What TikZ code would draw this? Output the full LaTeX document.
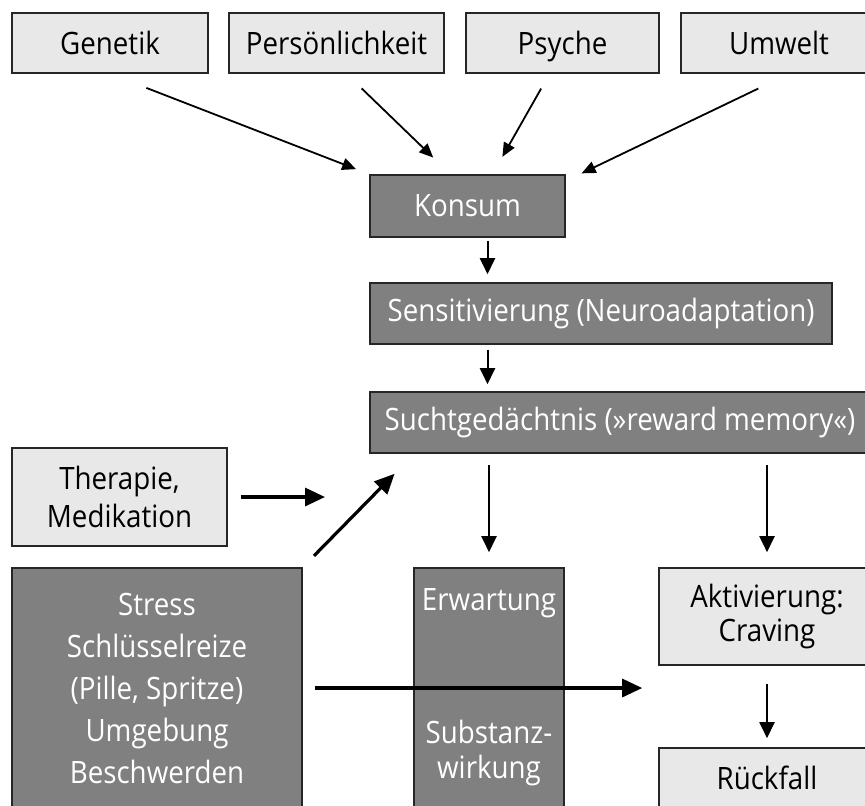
\documentclass[tikz,border=0pt]{standalone}
\usepackage{fontspec}
\setmainfont{Open Sans}[FakeStretch=0.9]
\usetikzlibrary{arrows.meta,calc}
\definecolor{boxdark}{RGB}{128,128,128}
\definecolor{boxlight}{RGB}{232,232,232}
\tikzset{%
  box/.style      = {shape=rectangle, draw=black!85, line width=0.8pt,%
                     align=center, inner sep=0pt,%
                     font=\fontsize{15.4}{19}\selectfont},%
  darkbox/.style  = {box, fill=boxdark, text=white},%
  lightbox/.style = {box, fill=boxlight, text=black},%
  arr/.style      = {-{Triangle[length=7pt,width=6pt]}, line width=0.9pt},%
  thickarr/.style = {-{Triangle[length=10pt,width=9pt]}, line width=1.6pt}%
}
\begin{document}
\begin{tikzpicture}[x=0.5pt, y=-0.5pt]%
	\useasboundingbox (0,0) rectangle (865,805);
	\clip (0,0) rectangle (865,805);
	% Einflussfaktoren
	\node[lightbox, minimum width=98pt, minimum height=30pt] (gen) at (110,43) {Genetik};
	\node[lightbox, minimum width=107.5pt, minimum height=30pt] (pers) at (336.5,43) {Persönlichkeit};
	\node[lightbox, minimum width=96.5pt, minimum height=30pt, text depth=0pt] (psy) at (562.5,43) {Psyche};
	\node[lightbox, minimum width=98pt, minimum height=30pt] (umw) at (779,43) {Umwelt};
	% Hauptkette
	\node[darkbox, minimum width=97.5pt, minimum height=31pt] (kon) at (467.5,206) {Konsum};
	\node[darkbox, minimum width=231pt, minimum height=30.5pt] (sens) at (601,313.5) {Sensitivierung (Neuroadaptation)};
	\node[darkbox, minimum width=250pt, minimum height=30.5pt] (sucht) at (620,422.5) {Suchtgedächtnis (»reward memory«)};
	\node[lightbox, minimum width=107.5pt, minimum height=49pt] (ther) at (119.5,497) {Therapie,\\Medikation};
	% untere Reihe
	\node[darkbox, minimum width=145pt, minimum height=120pt,%
	      font=\fontsize{15.4}{21}\selectfont] (stress) at (157,688)%
	      {Stress\\Schlüsselreize\\(Pille, Spritze)\\Umgebung\\Beschwerden};
	\node[darkbox, minimum width=75pt, minimum height=120pt] (erw) at (489,688) {};
	\node[box, draw=none, text=white] (erwtop) at ($(erw.north)+(0,36)$) {Erwartung};
	\node[box, draw=none, text=white, font=\fontsize{15.4}{17.5}\selectfont] (erwbot) at ($(erw.south)+(0,-56)$) {Substanz-\\wirkung};
	\node[lightbox, minimum width=108pt, minimum height=48.5pt,%
	      font=\fontsize{15.4}{17}\selectfont] (akt) at (767,616.5) {Aktivierung:\\Craving};
	\node[lightbox, minimum width=108pt, minimum height=30pt] (rueck) at (767,778) {Rückfall};
	\coordinate (tz) at (325,497);
	% Pfeile
	\draw[arr, shorten <=19.5pt, shorten >=7pt] (gen.south) -- (kon.north west);
	\draw[arr, shorten <=10.5pt, shorten >=12pt] ($(pers.south)+(10,0)$) -- ($(kon.north)+(-17,0)$);
	\draw[arr, shorten <=8.5pt, shorten >=10pt] ($(psy.south)+(-13,0)$) -- ($(kon.north)+(25,0)$);
	\draw[arr, shorten <=17pt, shorten >=1pt] ($(umw.south)+(10,0)$) -- ($(kon.north east)+(14,0)$);
	\coordinate (k1) at ($(kon.south)+(20,0)$);
	\draw[arr, line width=1pt, -{Triangle[length=8pt,width=7.5pt]}, shorten <=1.5pt, shorten >=4pt] (k1) -- (k1 |- sens.north);
	\draw[arr, line width=1pt, -{Triangle[length=8pt,width=7.5pt]}, shorten <=2.5pt, shorten >=3.5pt] (k1 |- sens.south) -- (k1 |- sucht.north);
	\draw[arr, line width=1pt, -{Triangle[length=8pt,width=7.5pt]}, shorten <=5.5pt, shorten >=7.5pt] (erw.north |- sucht.south) -- (erw.north);
	\draw[arr, line width=1pt, -{Triangle[length=8pt,width=7.5pt]}, shorten <=5.5pt, shorten >=7.5pt] (akt.north |- sucht.south) -- (akt.north);
	\draw[thickarr, shorten <=6.5pt] (ther.east) -- (tz);
	\draw[thickarr, shorten <=8pt, shorten >=14pt] (stress.north east) -- ($(sucht.south west)+(45,0)$);
	\draw[thickarr, shorten <=6pt, shorten >=8pt] (stress.east) -- (stress.east -| akt.west);
	\draw[arr, line width=1pt, -{Triangle[length=8pt,width=7.5pt]}, shorten <=9pt, shorten >=4.5pt] (akt.south) -- (rueck.north);
\end{tikzpicture}
\end{document}
